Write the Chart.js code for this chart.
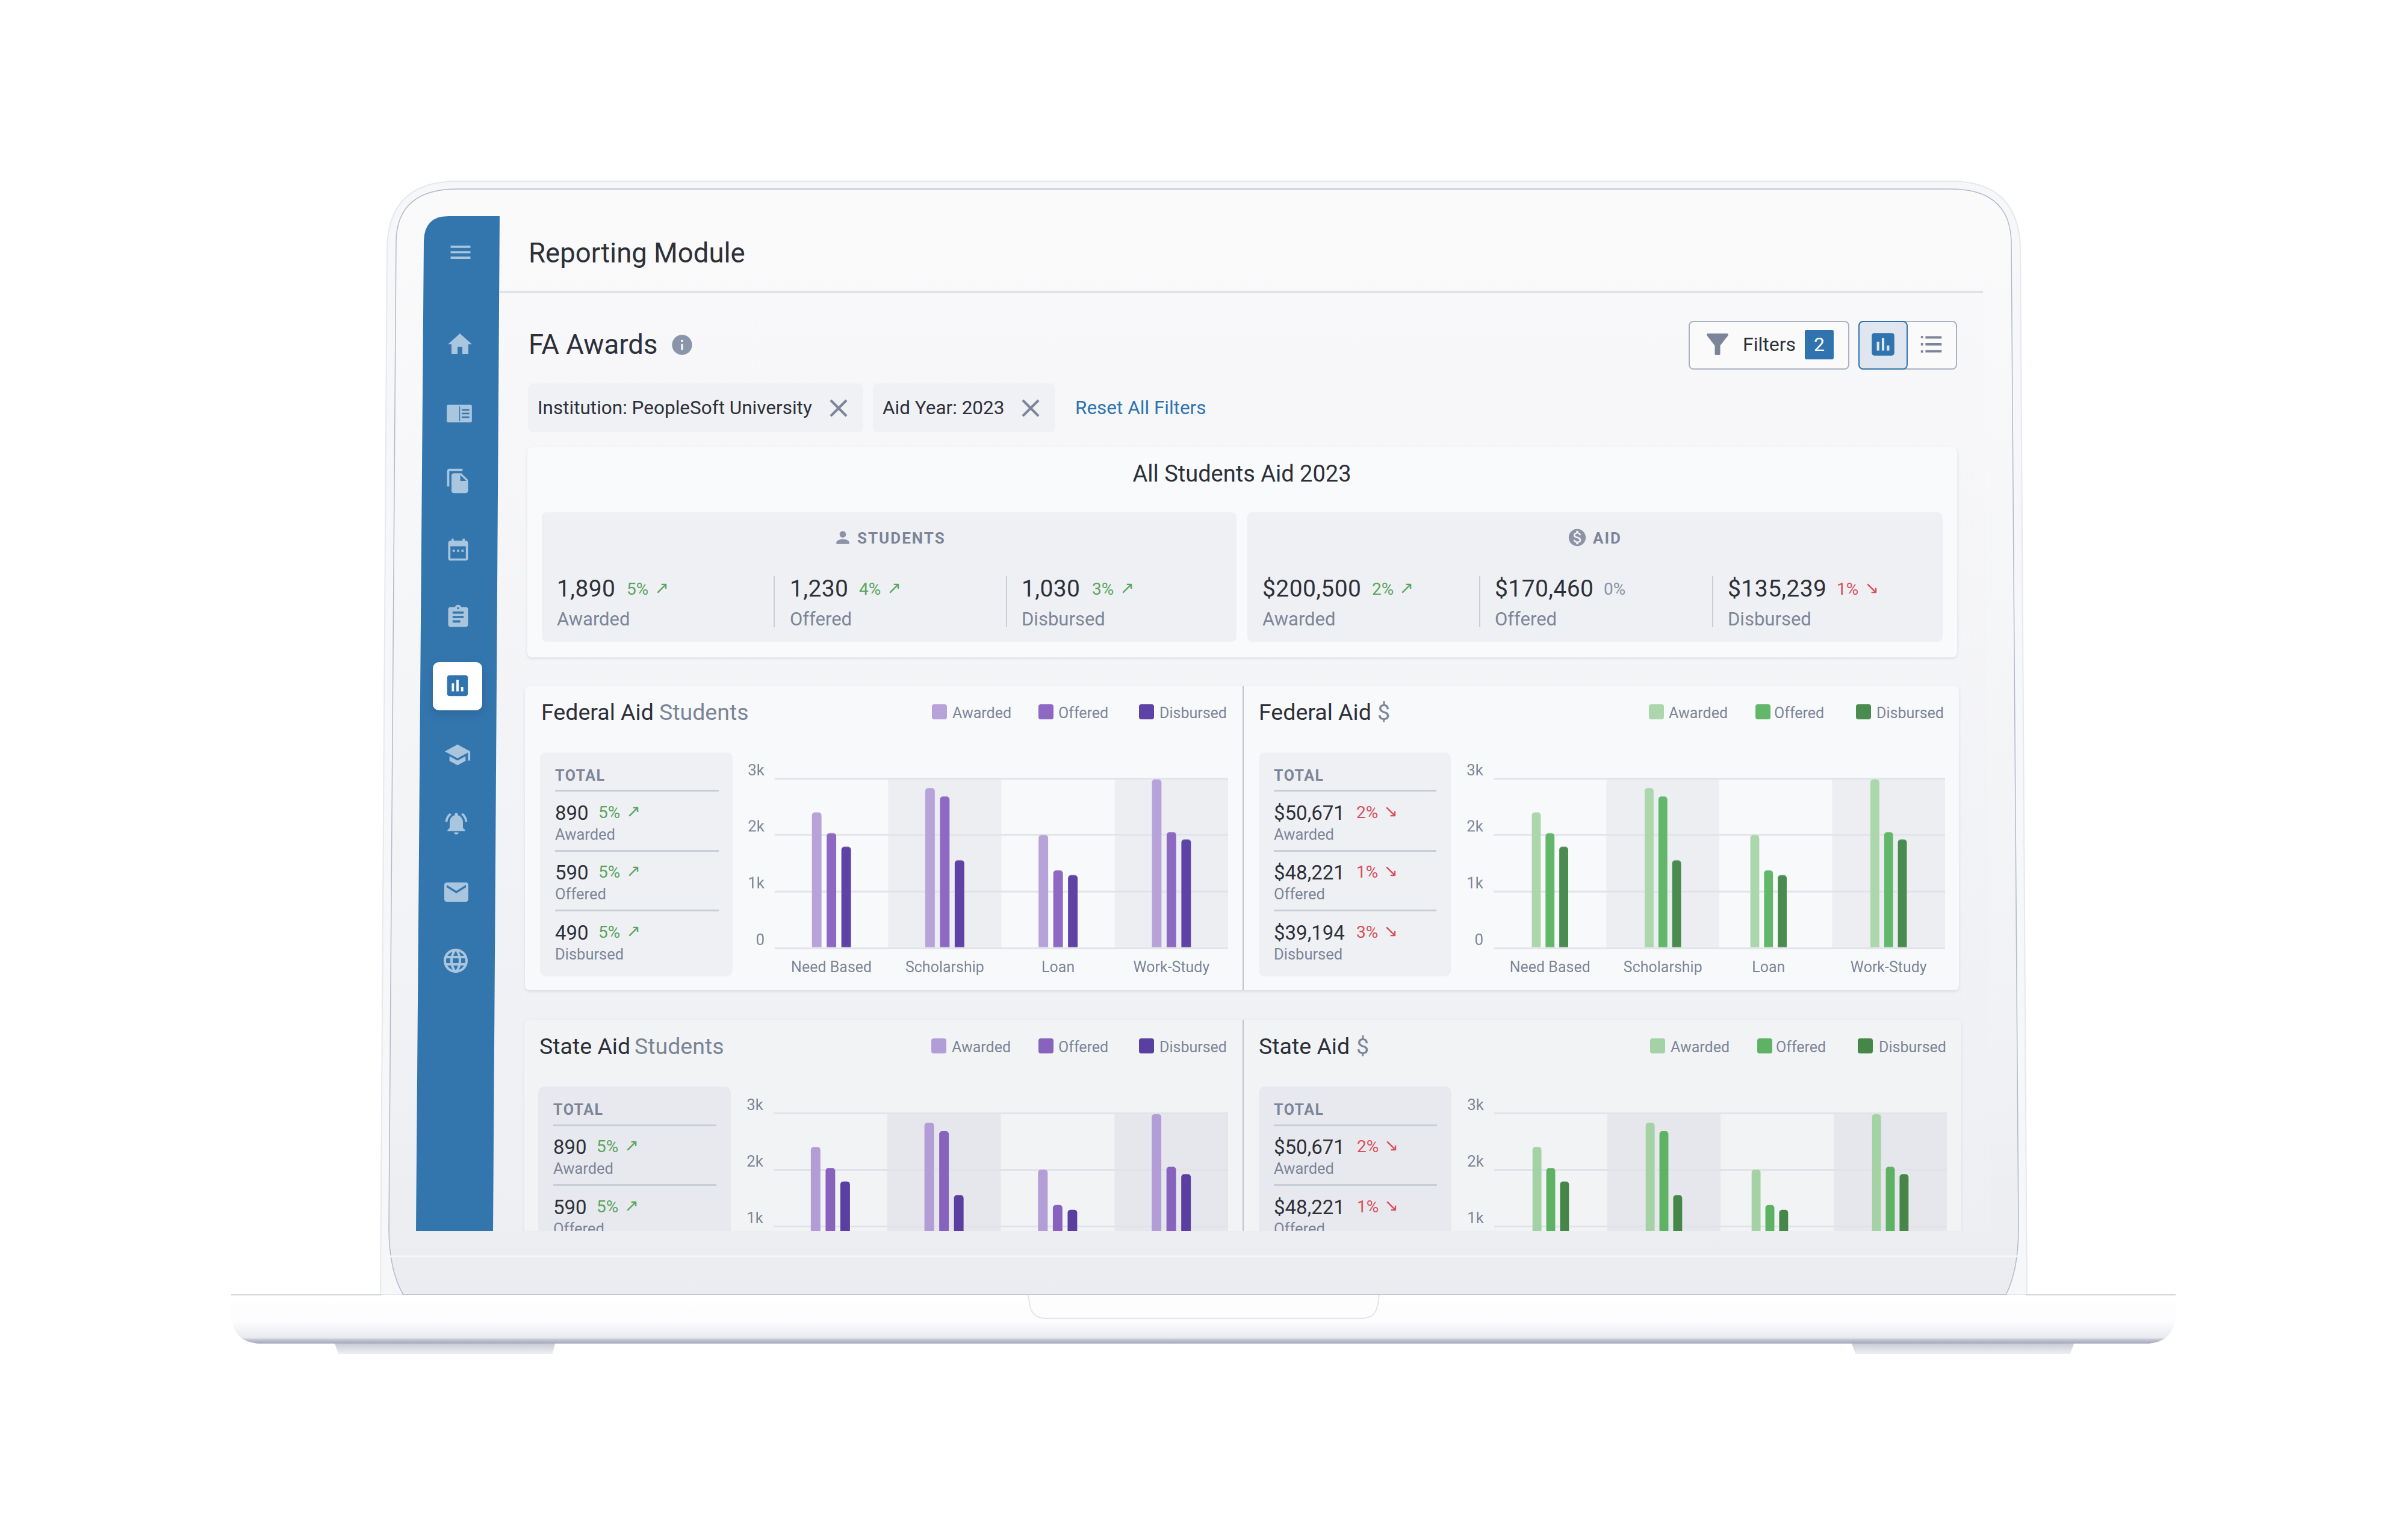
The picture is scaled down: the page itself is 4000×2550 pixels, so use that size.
<!DOCTYPE html>
<html>
<head>
<meta charset="utf-8">
<title>FA Awards</title>
<script src="https://cdn.jsdelivr.net/npm/chart.js@4/dist/chart.umd.min.js"></script>
<style>
  html, body { margin: 0; padding: 0; width: 4000px; height: 2550px; background: #fff; overflow: hidden; }
  body { font-family: Roboto, "Noto Sans", sans-serif; position: relative; }
  #laptop, #icons { position: absolute; left: 0; top: 0; }
  #screen { position: absolute; left: 0; top: 0; width: 4000px; height: 2045px; overflow: hidden; }
  #screen div, #screen span, #screen canvas { position: absolute; }
  .t { white-space: nowrap; line-height: 1; }
</style>
</head>
<body>

<svg id="laptop" width="4000" height="2550" viewBox="0 0 4000 2550">
  <defs>
    <linearGradient id="lidFill" x1="0" y1="0" x2="0" y2="1">
      <stop offset="0" stop-color="#fafafb"/><stop offset="0.75" stop-color="#f1f2f5"/><stop offset="1" stop-color="#ebecf0"/>
    </linearGradient>
    <linearGradient id="contentFill" x1="0" y1="0" x2="0" y2="1">
      <stop offset="0" stop-color="#f8f8fa"/><stop offset="1" stop-color="#eeeff3"/>
    </linearGradient>
    <linearGradient id="baseFill" x1="0" y1="0" x2="0" y2="1">
      <stop offset="0" stop-color="#ffffff"/><stop offset="0.55" stop-color="#fcfcfd"/><stop offset="0.88" stop-color="#e8eaef"/><stop offset="0.92" stop-color="#c3c7d3"/><stop offset="1" stop-color="#a3a8ba"/>
    </linearGradient>
    <linearGradient id="footFill" x1="0" y1="0" x2="0" y2="1">
      <stop offset="0" stop-color="#c8ccd6"/><stop offset="1" stop-color="#eeeff3"/>
    </linearGradient>
  </defs>
  <!-- lid -->
  <path d="M632 2151 L643 410 Q646 301 760 301 L3240 301 Q3352 301 3356 410 L3367 2151 Z" fill="#f6f7f9" stroke="#e6e8ed" stroke-width="2"/>
  <path d="M670 2151 Q646 2110 646 2040 L658 400 Q660 314 760 314 L3240 314 Q3338 314 3341 400 L3353 2040 Q3353 2110 3332 2151 Z" fill="url(#lidFill)" stroke="#b4b8c8" stroke-width="1.5"/>
  <line x1="646" y1="2087" x2="3354" y2="2087" stroke="#f6f7f9" stroke-width="3"/>
  <!-- contenu -->
  <path d="M830 486 L3294 486 L3308 2045 L819 2045 Z" fill="url(#contentFill)"/>
  <line x1="830" y1="485" x2="3294" y2="485" stroke="#dcdee4" stroke-width="3"/>
  <!-- pasek boczny -->
  <path d="M745 359 L830 359 L819 2045 L691 2045 L704 400 Q705 359 745 359 Z" fill="#3376ae"/>
  <!-- podstawa -->
  <path d="M556 2232 L922 2232 L918 2249 L562 2249 Z" fill="url(#footFill)"/>
  <path d="M3076 2232 L3445 2232 L3439 2249 L3082 2249 Z" fill="url(#footFill)"/>
  <path d="M384 2151 L3614 2151 L3614 2185 Q3612 2228 3570 2232 L428 2232 Q386 2228 384 2185 Z" fill="url(#baseFill)"/>
  <path d="M384 2151 L634 2151 M3365 2151 L3614 2151" stroke="#d5d7df" stroke-width="2"/>
  <path d="M1708 2151 L1710 2165 Q1713 2190 1737 2190 L2262 2190 Q2286 2190 2289 2165 L2291 2151" fill="#fdfdfe" stroke="#e2e4ea" stroke-width="2"/>
</svg>

<div id="screen"></div>
<svg id="icons" width="4000" height="2045" viewBox="0 0 4000 2045"></svg>

<script>
// --- DANE ---
const categories = ['Need Based', 'Scholarship', 'Loan', 'Work-Study'];
const awarded = [2400, 2830, 2000, 2980];
const offered = [2030, 2680, 1375, 2050];
const disbursed = [1790, 1550, 1290, 1920];
const yTicks = ['0', '1k', '2k', '3k'];
const seriesNames = ['Awarded', 'Offered', 'Disbursed'];

const studentTop = ['1,890', '1,230', '1,030'];
const studentTopPct = ['5%', '4%', '3%'];
const aidTop = ['$200,500', '$170,460', '$135,239'];
const aidTopPct = ['2%', '0%', '1%'];
const studentTotals = ['890', '590', '490'];
const studentTotalPct = ['5%', '5%', '5%'];
const aidTotals = ['$50,671', '$48,221', '$39,194'];
const aidTotalPct = ['2%', '1%', '3%'];

const purple = ['#b7a3da', '#8e69c3', '#5e42a6'];
const purpleDim = ['#b29dd6', '#8863bd', '#5a3fa0'];
const green = ['#acd6ab', '#63b76b', '#4a8b50'];
const greenDim = ['#a5d2a5', '#5eb264', '#468749'];

// grupa "Loan" na wykresach po prawej jest lekko przesunięta w lewo
const rightGroupShift = [0, 0, -12, 0];

const INK = '#2d3039', MUTED = '#7c8598', UP = '#5aa55e', DOWN = '#d9505a', BLUE = '#2f74ae';
const screen_ = document.getElementById('screen');

// --- HELPERY ---
function box(x, y, w, h, bg, radius, shadow) {
    const d = document.createElement('div');
    d.style.cssText = `left:${x}px;top:${y}px;width:${w}px;height:${h}px;background:${bg};border-radius:${radius || 0}px;` +
        (shadow ? 'box-shadow:0 2px 4px rgba(170,175,195,.35);' : '');
    screen_.appendChild(d);
    return d;
}

function text(x, cy, str, size, color, extra) {
    const s = document.createElement('span');
    s.className = 't';
    s.textContent = str;
    s.style.cssText = `left:${x}px;top:${cy}px;font-size:${size}px;color:${color};transform:translateY(-50%);` + (extra || '');
    screen_.appendChild(s);
    return s;
}

function arrow(x, cy, dir, color, size) {
    text(x, cy, dir > 0 ? '↗' : '↘', size, color, 'font-family:"DejaVu Sans";transform:translate(-50%,-50%);');
}

const icons = document.getElementById('icons');
function icon(cx, cy, size, color, d) {
    const p = document.createElementNS('http://www.w3.org/2000/svg', 'path');
    const k = size / 24;
    p.setAttribute('d', d);
    p.setAttribute('fill', color);
    p.setAttribute('fill-rule', 'evenodd');
    p.setAttribute('transform', `translate(${cx - 12 * k} ${cy - 12 * k}) scale(${k})`);
    icons.appendChild(p);
}

const IC = {
    menu: 'M3 18h18v-2H3zM3 13h18v-2H3zM3 6v2h18V6z',
    home: 'M10 20v-6h4v6h5v-8h3L12 3 2 12h3v8z',
    book: 'M3 5h18a1 1 0 0 1 1 1v12a1 1 0 0 1-1 1H3a1 1 0 0 1-1-1V6a1 1 0 0 1 1-1zM14 8.5h6v1.2h-6zM14 11.4h6v1.2h-6zM14 14.3h6v1.2h-6zM12 6.3h.6v11.4H12z',
    docs: 'M16 1H4c-1.1 0-2 .9-2 2v14h2V3h12V1zM15 5l6 6v10c0 1.1-.9 2-2 2H8c-1.1 0-2-.9-2-2l.01-14c0-1.1.89-2 1.99-2h7zM14 12h5.5L14 6.5V12z',
    calendar: 'M19 4h-1V2h-2v2H8V2H6v2H5C3.9 4 3 4.9 3 6v14c0 1.1.9 2 2 2h14c1.1 0 2-.9 2-2V6c0-1.1-.9-2-2-2zM19 20H5V9h14v11zM7 12h2v2H7zM11 12h2v2h-2zM15 12h2v2h-2z',
    clip: 'M19 3h-4.18C14.4 1.84 13.3 1 12 1s-2.4.84-2.82 2H5c-1.1 0-2 .9-2 2v14c0 1.1.9 2 2 2h14c1.1 0 2-.9 2-2V5c0-1.1-.9-2-2-2zM12 3c.55 0 1 .45 1 1s-.45 1-1 1-1-.45-1-1 .45-1 1-1zM14 17H7v-2h7v2zM17 13H7v-2h10v2zM17 9H7V7h10v2z',
    bars: 'M19 3H5c-1.1 0-2 .9-2 2v14c0 1.1.9 2 2 2h14c1.1 0 2-.9 2-2V5c0-1.1-.9-2-2-2zM9 17H7v-7h2v7zM13 17h-2V7h2v10zM17 17h-2v-4h2v4z',
    school: 'M5 13.18v4L12 21l7-3.82v-4L12 17l-7-3.82zM12 3L1 9l11 6 9-4.91V17h2V9L12 3z',
    bell: 'M12 22c1.1 0 2-.9 2-2h-4c0 1.1.9 2 2 2zM18 16v-5c0-3.07-1.63-5.64-4.5-6.32V4c0-.83-.67-1.5-1.5-1.5s-1.5.67-1.5 1.5v.68C7.64 5.36 6 7.92 6 11v5l-2 2v1h16v-1l-2-2zM7.58 4.08L6.15 2.65C3.75 4.48 2.17 7.3 2.03 10.5h2c.15-2.65 1.51-4.97 3.55-6.42zM19.97 10.5h2c-.15-3.2-1.73-6.02-4.12-7.85l-1.42 1.43c2.02 1.45 3.39 3.77 3.54 6.42z',
    mail: 'M20 4H4c-1.1 0-1.99.9-1.99 2L2 18c0 1.1.9 2 2 2h16c1.1 0 2-.9 2-2V6c0-1.1-.9-2-2-2zM20 8l-8 5-8-5V6l8 5 8-5v2z',
    globe: 'M12 2C6.48 2 2 6.48 2 12s4.48 10 10 10 10-4.48 10-10S17.52 2 12 2zM12 4c.83 1.2 1.48 2.53 1.91 4h-3.82c.43-1.47 1.08-2.8 1.91-4zM4.26 14C4.1 13.36 4 12.69 4 12s.1-1.36.26-2h3.38c-.08.66-.14 1.32-.14 2s.06 1.34.14 2H4.26zM5.08 16h2.95c.32 1.25.78 2.45 1.38 3.56-1.84-.63-3.37-1.9-4.33-3.56zM8.03 8H5.08c.96-1.66 2.49-2.93 4.33-3.56C8.81 5.55 8.35 6.75 8.03 8zM12 19.96c-.83-1.2-1.48-2.53-1.91-3.96h3.82c-.43 1.43-1.08 2.76-1.91 3.96zM14.34 14H9.66c-.09-.66-.16-1.32-.16-2s.07-1.35.16-2h4.68c.09.65.16 1.32.16 2s-.07 1.34-.16 2zM14.59 19.56c.6-1.11 1.06-2.31 1.38-3.56h2.95c-.96 1.65-2.49 2.93-4.33 3.56zM16.36 14c.08-.66.14-1.32.14-2s-.06-1.34-.14-2h3.38c.16.64.26 1.31.26 2s-.1 1.36-.26 2h-3.38zM18.92 8h-2.95c-.32-1.25-.78-2.45-1.38-3.56 1.84.63 3.37 1.9 4.33 3.56z',
    filter: 'M4.25 5.61C6.27 8.2 10 13 10 13v6c0 .55.45 1 1 1h2c.55 0 1-.45 1-1v-6s3.72-4.8 5.74-7.39c.51-.66.04-1.61-.79-1.61H5.04c-.83 0-1.3.95-.79 1.61z',
    list: 'M3 4.8h2v2H3zM3 11h2v2H3zM3 17.2h2v2H3zM7 19h14v-2H7zM7 13h14v-2H7zM7 5v2h14V5z',
    person: 'M12 12c2.21 0 4-1.79 4-4s-1.79-4-4-4-4 1.79-4 4 1.79 4 4 4zM12 14c-2.67 0-8 1.34-8 4v2h16v-2c0-2.66-5.33-4-8-4z',
    close: 'M19 6.41L17.59 5 12 10.59 6.41 5 5 6.41 10.59 12 5 17.59 6.41 19 12 13.41 17.59 19 19 17.59 13.41 12z',
    info: 'M12 2C6.48 2 2 6.48 2 12s4.48 10 10 10 10-4.48 10-10S17.52 2 12 2zM13 17h-2v-6h2v6zM13 9h-2V7h2v2z',
    money: 'M12 2C6.48 2 2 6.48 2 12s4.48 10 10 10 10-4.48 10-10S17.52 2 12 2zM13.41 18.09V20h-2.67v-1.93c-1.71-.36-3.16-1.46-3.27-3.4h1.96c.1 1.05.82 1.87 2.65 1.87 1.96 0 2.4-.98 2.4-1.59 0-.83-.44-1.61-2.67-2.14-2.48-.6-4.18-1.62-4.18-3.67 0-1.72 1.39-2.84 3.11-3.21V4h2.67v1.95c1.86.45 2.79 1.86 2.85 3.39H14.3c-.05-1.11-.64-1.87-2.22-1.87-1.5 0-2.4.68-2.4 1.64 0 .84.65 1.39 2.67 1.91s4.18 1.39 4.18 3.91c-.01 1.83-1.38 2.83-3.12 3.16z'
};

// --- KATEGORIA Z PRZESUNIĘCIEM ---
class ShiftedCategory extends Chart.CategoryScale {
    getPixelForValue(value, index) {
        const px = super.getPixelForValue(value, index);
        return px + (rightGroupShift[Math.round(value)] || 0);
    }
}
ShiftedCategory.id = 'shiftedCategory';
ShiftedCategory.defaults = Chart.CategoryScale.defaults;
Chart.register(ShiftedCategory);

// Szare pasy za co drugą kategorią
function bandPlugin(color) {
    return {
        id: 'bands',
        beforeDraw(chart) {
            const { ctx, chartArea, scales } = chart;
            ctx.save();
            ctx.fillStyle = color;
            categories.forEach((c, i) => {
                if (i % 2 === 0) return;
                const x0 = scales.x.getPixelForDecimal(i / categories.length);
                const x1 = scales.x.getPixelForDecimal((i + 1) / categories.length);
                ctx.fillRect(x0, chartArea.top, x1 - x0, chartArea.bottom - chartArea.top);
            });
            ctx.restore();
        }
    };
}

// --- WYKRES ---
const AXIS_W = 70, AXIS_H = 56, TOP_PAD = 40;
function renderChart(left, right, y3k, y0, colors, bandColor, shifted) {
    const canvas = document.createElement('canvas');
    const w = right - left + AXIS_W, h = y0 - y3k + TOP_PAD + AXIS_H;
    canvas.width = w;
    canvas.height = h;
    canvas.style.cssText = `left:${left - AXIS_W}px;top:${y3k - TOP_PAD}px;width:${w}px;height:${h}px;`;
    screen_.appendChild(canvas);

    new Chart(canvas, {
        type: 'bar',
        data: {
            labels: categories,
            datasets: [awarded, offered, disbursed].map((values, i) => ({
                label: seriesNames[i],
                data: values,
                backgroundColor: colors[i],
                borderRadius: { topLeft: 5, topRight: 5, bottomLeft: 0, bottomRight: 0 },
                borderSkipped: false,
                barPercentage: 0.65,
                categoryPercentage: 0.39
            }))
        },
        options: {
            responsive: false,
            animation: false,
            devicePixelRatio: 1,
            layout: { padding: { top: TOP_PAD, left: 0, right: 0, bottom: 0 } },
            plugins: { legend: { display: false }, tooltip: { enabled: false } },
            scales: {
                x: {
                    type: shifted ? 'shiftedCategory' : 'category',
                    afterFit(scale) { scale.height = AXIS_H; },
                    grid: { display: false },
                    border: { display: false },
                    ticks: {
                        color: MUTED, font: { family: 'Roboto', size: 25 },
                        padding: 11, maxRotation: 0, autoSkip: false
                    }
                },
                y: {
                    min: 0,
                    max: 3000,
                    afterFit(scale) { scale.width = AXIS_W; },
                    grid: { color: '#e1e3e9', lineWidth: 3, drawTicks: false },
                    border: { display: false },
                    ticks: {
                        stepSize: 1000, color: MUTED, font: { family: 'Roboto', size: 26 },
                        padding: 17, labelOffset: -12,
                        callback: v => yTicks[v / 1000]
                    }
                }
            }
        },
        plugins: [bandPlugin(bandColor)]
    });
}

// --- KARTY ---
function addTotals(x, x2, pctX, arrowX, top, values, pcts, trend, pctColor, boxBg, boxW) {
    box(x - 25, top, boxW, 372, boxBg, 10);
    text(x, top + 38, 'TOTAL', 25, MUTED, 'font-weight:700;letter-spacing:1.5px;');
    seriesNames.forEach((name, i) => {
        const y = top + 64 + i * 99.7;
        box(x, y - 1.5, x2 - x, 3, '#c9cdd7');
        text(x, y + 36, values[i], 33, INK);
        text(pctX, y + 36, pcts[i], 28, pctColor);
        arrow(arrowX, y + 34, trend, pctColor, 28);
        text(x, y + 73, name, 25.5, MUTED);
    });
}

function addLegend(swatches, labelXs, cy, colors) {
    seriesNames.forEach((name, i) => {
        box(swatches[i], cy - 12.5, 25, 25, colors[i], 4);
        text(labelXs[i], cy + 1.5, name, 25, MUTED);
    });
}

function addTopStat(x, pctX, arrowX, value, pct, label, trend) {
    const c = trend > 0 ? UP : trend < 0 ? DOWN : '#8b93a6';
    text(x, 978, value, 39, INK, 'letter-spacing:.4px;');
    text(pctX, 979, pct, 28, c);
    if (trend) arrow(arrowX, 977, trend, c, 28);
    text(x, 1028, label, 31, MUTED);
}

function renderPage() {
    // Nagłówek
    text(878, 421, 'Reporting Module', 45.5, INK);
    text(878, 573, 'FA Awards', 45.5, INK);
    icon(1133, 573, 40, '#8b95aa', IC.info);

    // Filtry
    box(877, 637, 557, 81, '#f0f1f4', 8);
    text(893, 678, 'Institution: PeopleSoft University', 31.5, INK);
    icon(1393, 678, 50, '#7c8598', IC.close);
    box(1450, 637, 303, 81, '#f0f1f4', 8);
    text(1466, 678, 'Aid Year: 2023', 31.5, INK);
    icon(1712, 678, 50, '#7c8598', IC.close);
    text(1786, 678, 'Reset All Filters', 31.5, BLUE);

    // Przyciski
    const f = box(2805, 533, 263, 77, '#fafafb', 8);
    f.style.border = '2px solid #aab1c1';
    icon(2853, 572, 54, '#7c8598', IC.filter);
    text(2895, 572, 'Filters', 32, INK);
    box(2998, 548, 48, 49, BLUE, 3);
    text(3022, 572, '2', 32, '#fff', 'transform:translate(-50%,-50%);');
    const g = box(3087, 533, 160, 77, '#fafafb', 8);
    g.style.border = '2px solid #aab1c1';
    const g1 = box(3087, 533, 78, 77, '#dfe6ef', 8);
    g1.style.border = '2px solid ' + BLUE;
    icon(3128, 572, 50, BLUE, IC.bars);
    icon(3208, 572, 46, '#7c8598', IC.list);

    // Podsumowanie
    box(876, 743, 2375, 349, '#f9fafb', 8, true);
    text(2063, 787, 'All Students Aid 2023', 38, INK, 'transform:translate(-50%,-50%);');
    box(900, 851, 1154, 215, '#eff0f4', 8);
    box(2072, 851, 1155, 215, '#eff0f4', 8);
    icon(1400, 893, 32, '#8b93a6', IC.person);
    text(1424, 894, 'STUDENTS', 26, MUTED, 'font-weight:700;letter-spacing:2px;');
    icon(2620, 893, 34, '#8b93a6', IC.money);
    text(2646, 894, 'AID', 26, MUTED, 'font-weight:700;letter-spacing:2px;');
    [1285, 1671, 2457, 2844].forEach(x => box(x, 957, 2, 85, '#c9cdd7'));

    const sx = [925, 1312, 1697], spx = [1041, 1427, 1814], sax = [1099, 1485, 1872];
    seriesNames.forEach((n, i) => addTopStat(sx[i], spx[i], sax[i], studentTop[i], studentTopPct[i], n, 1));
    const ax = [2097, 2483, 2870], apx = [2279, 2664, 3051], aax = [2336, 0, 3109], atr = [1, 0, -1];
    seriesNames.forEach((n, i) => addTopStat(ax[i], apx[i], aax[i], aidTop[i], aidTopPct[i], n, atr[i]));

    // Federal Aid
    box(872, 1140, 2382, 505, '#f8f9fa', 8, true);
    box(2064, 1140, 2, 505, '#bfc3cf');
    text(899, 1184, 'Federal Aid', 37.5, INK);
    text(1095, 1184, 'Students', 37.5, MUTED);
    addLegend([1548, 1725, 1892], [1582, 1758, 1926], 1182.5, purple);
    addTotals(922, 1194, 994, 1052, 1249.5, studentTotals, studentTotalPct, 1, UP, '#eff0f4', 320);
    renderChart(1287, 2040, 1293, 1574.6, purple, '#eceef2', false);

    text(2091, 1184, 'Federal Aid', 37.5, INK);
    text(2288, 1184, '$', 37.5, MUTED);
    addLegend([2739, 2916, 3083], [2772, 2947, 3117], 1182.5, green);
    addTotals(2116, 2386, 2253, 2310, 1249.5, aidTotals, aidTotalPct, -1, DOWN, '#eff0f4', 319);
    renderChart(2481, 3231, 1293, 1574.6, green, '#eceef2', true);

    // State Aid
    box(871, 1694, 2387, 500, '#f2f3f5', 8, true);
    box(2064, 1694, 2, 500, '#bfc3cf');
    text(896, 1739, 'State Aid', 37.5, INK);
    text(1054, 1739, 'Students', 37.5, MUTED);
    addLegend([1547, 1725, 1892], [1581, 1758, 1926], 1737.5, purpleDim);
    addTotals(919, 1190, 991, 1049, 1805, studentTotals, studentTotalPct, 1, UP, '#e8e9ee', 320);
    renderChart(1285, 2040, 1849, 2131, purpleDim, '#e6e7ec', false);

    text(2091, 1739, 'State Aid', 37.5, INK);
    text(2253, 1739, '$', 37.5, MUTED);
    addLegend([2741, 2919, 3086], [2775, 2950, 3121], 1737.5, greenDim);
    addTotals(2116, 2387, 2254, 2311, 1805, aidTotals, aidTotalPct, -1, DOWN, '#e8e9ee', 320);
    renderChart(2482, 3234, 1849, 2131, greenDim, '#e6e7ec', true);

    // Ikony paska bocznego
    const SIDE = '#a9c6de';
    icon(765, 419, 44, SIDE, IC.menu);
    icon(764, 572, 48, SIDE, IC.home);
    icon(763, 687, 50, SIDE, IC.book);
    icon(761, 799, 44, SIDE, IC.docs);
    icon(761, 913, 44, SIDE, IC.calendar);
    icon(761, 1025, 44, SIDE, IC.clip);
    box(719, 1100, 82, 80, '#fff', 10).style.boxShadow = '0 6px 16px rgba(30,60,100,.25)';
    icon(760, 1139, 46, BLUE, IC.bars);
    icon(760, 1254, 46, SIDE, IC.school);
    icon(758, 1368, 44, SIDE, IC.bell);
    icon(758, 1482, 48, SIDE, IC.mail);
    icon(757, 1596, 48, SIDE, IC.globe);
}

document.addEventListener('DOMContentLoaded', renderPage);
</script>
</body>
</html>
